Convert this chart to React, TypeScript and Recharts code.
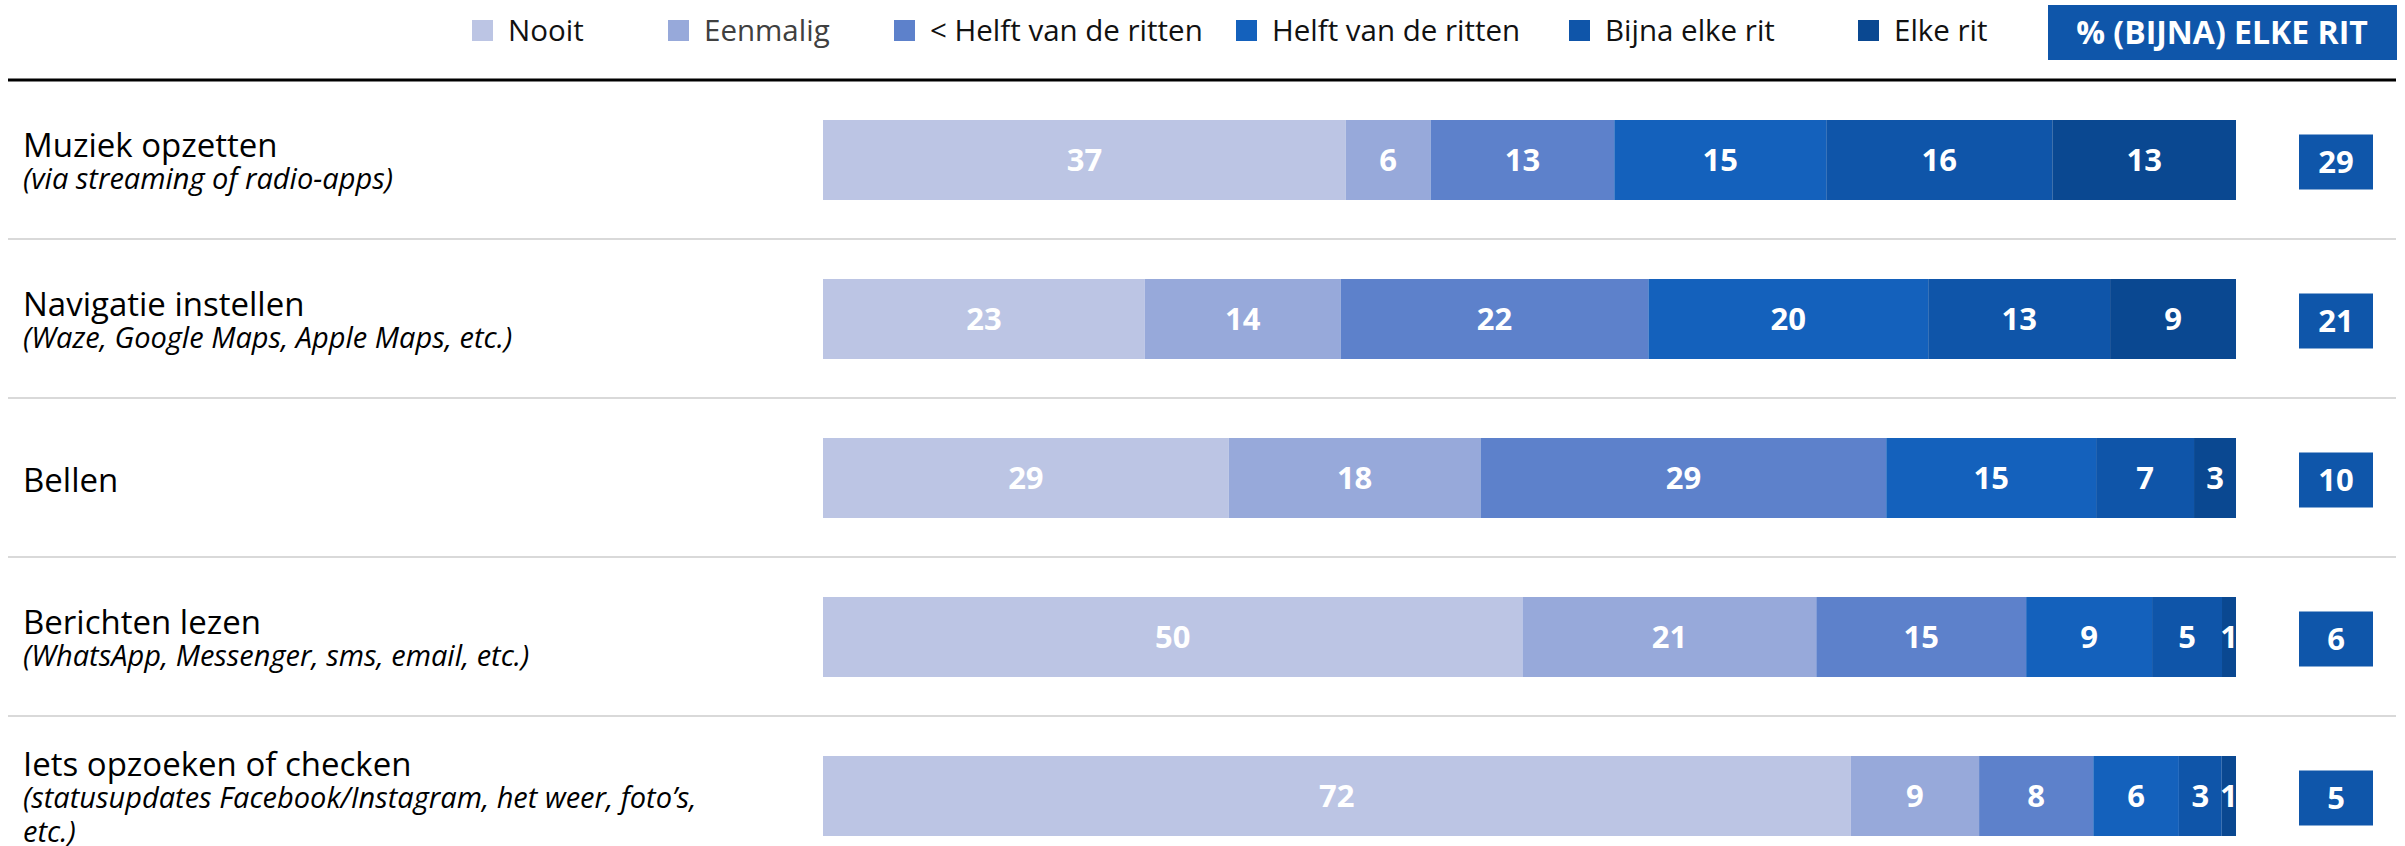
import React from 'react';
import { BarChart, Bar, XAxis, YAxis, LabelList, Legend } from 'recharts';

// ---------- data ----------
const categories = [
  'Muziek opzetten',
  'Navigatie instellen',
  'Bellen',
  'Berichten lezen',
  'Iets opzoeken of checken',
];
const subLabels: string[][] = [
  ['(via streaming of radio-apps)'],
  ['(Waze, Google Maps, Apple Maps, etc.)'],
  [],
  ['(WhatsApp, Messenger, sms, email, etc.)'],
  ['(statusupdates Facebook/Instagram, het weer, foto\u2019s,', 'etc.)'],
];
const nooit = [37, 23, 29, 50, 72];
const eenmalig = [6, 14, 18, 21, 9];
const helftMin = [13, 22, 29, 15, 8];
const helft = [15, 20, 15, 9, 6];
const bijna = [16, 13, 7, 5, 3];
const elke = [13, 9, 3, 1, 1];
const bijnaElkeRit = [29, 21, 10, 6, 5];

const seriesKeys = ['nooit', 'eenmalig', 'helftMin', 'helft', 'bijna', 'elke'];
const seriesNames = ['Nooit', 'Eenmalig', '< Helft van de ritten', 'Helft van de ritten', 'Bijna elke rit', 'Elke rit'];
const headerLabel = '% (BIJNA) ELKE RIT';

// ---------- styles ----------
const COLORS = ['#BCC5E4', '#97A9DA', '#5D81CB', '#1461BC', '#0F55A9', '#0A4891'];
const BOX_COLOR = '#0F56AA';
const FONT = '"Open Sans", "DejaVu Sans", sans-serif';
const LEGEND_X = [472, 668, 894, 1236, 1569, 1858];
const W = 2405;
const H = 875;
const PLOT_LEFT = 823;
const PLOT_RIGHT = 2236;
const TOP = 80;

const data = categories.map((c, i) => ({
  name: c,
  nooit: nooit[i],
  eenmalig: eenmalig[i],
  helftMin: helftMin[i],
  helft: helft[i],
  bijna: bijna[i],
  elke: elke[i],
}));

const renderLegend = () => (
  <svg width={W} height={70} style={{ display: 'block' }}>
    {seriesNames.map((n, i) => (
      <g key={n}>
        <rect x={LEGEND_X[i]} y={20} width={21} height={21} fill={COLORS[i]} />
        <text x={LEGEND_X[i] + 36} y={41} fontFamily={FONT} fontSize={29.5} fill={i === 1 ? '#404040' : '#111'}>
          {n}
        </text>
      </g>
    ))}
    <rect x={2048} y={5} width={349} height={55} fill={BOX_COLOR} />
    <text x={2222} y={44} textAnchor="middle" fontFamily={FONT} fontWeight={700} fontSize={32} fill="#fff">
      {headerLabel}
    </text>
  </svg>
);

const CategoryTick = (props: any) => {
  const { y, payload, index } = props;
  const idx = payload?.index ?? index ?? 0;
  const lines = [categories[idx], ...subLabels[idx]];
  const spacing = 34;
  const first = y + 3 - ((lines.length - 1) * spacing) / 2;
  const bandHalf = 79.5;
  return (
    <g>
      {idx === 0 && <line x1={8} x2={2396} y1={y - bandHalf} y2={y - bandHalf} stroke="#000" strokeWidth={3} />}
      {idx < categories.length - 1 && (
        <line x1={8} x2={2396} y1={y + bandHalf} y2={y + bandHalf} stroke="#D9D9D9" strokeWidth={2} />
      )}
      {lines.map((l, k) => (
        <text
          key={k}
          x={23}
          y={first + k * spacing + (k === 0 ? 11 : 9)}
          fontFamily={FONT}
          fontSize={k === 0 ? 33 : 29}
          fontStyle={k === 0 ? 'normal' : 'italic'}
          fill="#000"
        >
          {l}
        </text>
      ))}
      <rect x={2299} y={y - 25} width={74} height={55} fill={BOX_COLOR} />
      <text x={2336} y={y + 13} textAnchor="middle" fontFamily={FONT} fontWeight={700} fontSize={31} fill="#fff">
        {bijnaElkeRit[idx]}
      </text>
    </g>
  );
};

export default function App() {
  return (
    <div style={{ position: 'absolute', left: 0, top: 0, width: W, height: 846, overflow: 'hidden', background: '#fff' }}>
      <BarChart
        width={W}
        height={H}
        data={data}
        layout="vertical"
        stackOffset="expand"
        margin={{ top: TOP, right: W - PLOT_RIGHT, bottom: 0, left: 0 }}
        barSize={80}
      >
        <XAxis type="number" hide domain={[0, 1]} />
        <YAxis
          type="category"
          dataKey="name"
          width={PLOT_LEFT}
          axisLine={false}
          tickLine={false}
          tick={<CategoryTick />}
          interval={0}
        />
        <Legend verticalAlign="middle" content={renderLegend} wrapperStyle={{ top: 0, left: 0, width: W, height: 70 }} />
        {seriesKeys.map((k, i) => (
          <Bar key={k} dataKey={k} name={seriesNames[i]} stackId="a" fill={COLORS[i]} isAnimationActive={false}>
            <LabelList
              dataKey={k}
              position="center"
              fill="#fff"
              fontFamily={FONT}
              fontWeight={700}
              fontSize={31}
            />
          </Bar>
        ))}
      </BarChart>
    </div>
  );
}
